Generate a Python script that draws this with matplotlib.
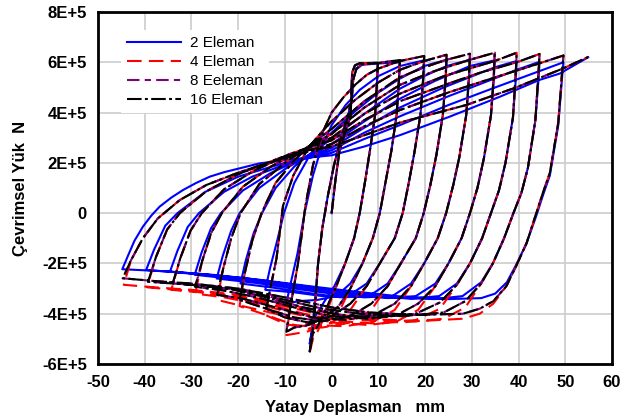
import itertools
import matplotlib
matplotlib.use("Agg")
import matplotlib.pyplot as plt
from matplotlib.ticker import FuncFormatter, MultipleLocator

plt.rcParams["font.family"] = ["Liberation Sans", "DejaVu Sans"]
plt.rcParams["axes.unicode_minus"] = False

# deplasman mm, kuvvet 1E+5 N cinsinden
ilk_yukleme = [(0, 0), (0.8, 1.3), (1.7, 2.5), (3.2, 3.4), (4.1, 3.9), (4.2, 4.8),
               (4.4, 5.6), (5.0, 5.88), (6.0, 5.96), (9.9, 5.98)]

# 16 eleman: tepe noktasindan negatif uca inen kollar
bosaltma_16 = [
    [(9.9, 5.98), (9.7, 5.2), (9.3, 3.9), (8.2, 2.5), (7.1, 1.2), (6.0, 0.0), (4.8, -1.0), (2.9, -2.0),
     (0.8, -3.0), (-1.2, -3.8), (-3.0, -4.5), (-4.0, -4.8), (-4.7, -5.5)],
    [(14.6, 6.09), (14.4, 5.3), (13.9, 3.9), (12.8, 2.5), (11.5, 1.2), (10.3, 0.0), (8.8, -1.0), (6.6, -2.0),
     (4.0, -3.0), (1.5, -3.7), (-2.0, -4.2), (-5.0, -4.45), (-8.0, -4.55), (-9.7, -4.72)],
    [(19.8, 6.25), (19.6, 5.4), (19.0, 3.9), (17.7, 2.4), (16.5, 1.2), (15.2, 0.0), (13.5, -1.0), (10.3, -2.0),
     (7.5, -2.9), (4.0, -3.6), (0, -4.1), (-5, -4.35), (-10, -4.15), (-14.0, -3.8)],
    [(24.6, 6.30), (24.4, 5.4), (23.8, 3.9), (22.4, 2.3), (21.1, 1.1), (19.7, 0.0), (18.0, -1.0), (14.8, -2.0),
     (12.0, -2.9), (8.5, -3.6), (4, -4.1), (-2, -4.3), (-8, -4.15), (-14, -3.8), (-19.7, -3.45)],
    [(29.6, 6.34), (29.4, 5.5), (28.8, 3.9), (27.3, 2.2), (26.0, 1.1), (24.5, 0.0), (22.7, -1.0), (19.8, -2.0),
     (17.0, -2.9), (13.5, -3.6), (9, -4.05), (3, -4.25), (-4, -4.15), (-12, -3.75), (-19, -3.4), (-24.5, -3.25)],
    [(34.9, 6.38), (34.7, 5.5), (34.1, 3.9), (32.6, 2.2), (31.2, 1.0), (29.6, 0.0), (27.8, -1.0), (25.0, -2.0),
     (22.2, -2.9), (18.5, -3.6), (14, -4.05), (8, -4.2), (0, -4.1), (-8, -3.75), (-16, -3.35), (-23, -3.08),
     (-29.2, -2.93)],
    [(39.6, 6.38), (39.4, 5.6), (38.8, 3.8), (37.2, 2.0), (35.8, 0.9), (34.1, 0.0), (32.2, -1.0), (29.6, -2.0),
     (26.8, -2.85), (23.2, -3.55), (18, -4.0), (10, -4.15), (2, -4.05), (-6, -3.75), (-14, -3.35), (-22, -3.0),
     (-28, -2.88), (-34.0, -2.79)],
    [(44.5, 6.33), (44.3, 5.7), (43.6, 3.7), (42.0, 1.8), (40.6, 0.8), (38.9, 0.0), (36.9, -1.0), (34.5, -2.0),
     (32.0, -2.8), (28.6, -3.5), (24, -3.95), (15, -4.1), (6, -4.0), (-2, -3.8), (-10, -3.45), (-20, -3.05),
     (-30, -2.85), (-39.3, -2.73)],
    [(49.6, 6.27), (49.4, 5.8), (48.5, 3.6), (46.7, 1.6), (45.2, 0.8), (43.8, 0.0), (41.7, -1.2), (39.5, -2.1),
     (37.4, -2.9), (34.6, -3.5), (31.7, -3.8), (28.1, -4.0), (18, -4.05), (8, -3.95), (0, -3.75), (-10, -3.35),
     (-20, -3.0), (-30, -2.8), (-38, -2.7), (-44.7, -2.59)],
]

# 16 eleman: negatif uctan bir sonraki tepeye cikan kollar
yukleme_16 = [
    [(-4.7, -5.5), (-4.2, -4.9), (-3.6, -3.8), (-2.9, -2.0), (-2.0, -0.6), (-0.8, 0.7), (0.5, 1.9), (2.0, 3.0),
     (3.4, 3.8), (4.3, 4.5), (4.6, 5.3), (5.3, 5.75), (6.5, 5.92), (9.9, 5.97), (14.6, 6.09)],
    [(-9.7, -4.72), (-8.9, -3.8), (-7.2, -2.0), (-5.6, 0.3), (-4.0, 1.9), (-2.2, 3.1), (0, 4.0), (2.5, 4.6),
     (5, 5.1), (7.5, 5.5), (10, 5.75), (14.6, 6.05), (19.8, 6.25)],
    [(-14.0, -3.8), (-13.0, -2.9), (-11.8, -1.8), (-10.4, 0.3), (-8.2, 1.5), (-5.0, 2.6), (-2, 3.25), (0, 3.65),
     (5, 4.5), (10, 5.2), (14.6, 5.7), (19.8, 6.05), (24.6, 6.30)],
    [(-19.7, -3.45), (-18.6, -2.4), (-17.0, -1.1), (-15.0, 0.0), (-12, 1.2), (-8, 2.1), (-4, 2.8), (0, 3.35),
     (7, 4.45), (14.6, 5.4), (19.8, 5.8), (24.6, 6.1), (29.6, 6.34)],
    [(-24.5, -3.25), (-23.2, -2.2), (-21.5, -1.0), (-19.5, 0.0), (-15.5, 1.15), (-10, 2.0), (-5, 2.65), (0, 3.15),
     (7, 4.2), (14.6, 5.1), (22, 5.65), (29.6, 6.1), (34.9, 6.38)],
    [(-29.2, -2.93), (-27.7, -1.9), (-25.8, -0.8), (-23.5, 0.0), (-19, 1.05), (-13, 1.85), (-6, 2.55), (0, 3.0),
     (7, 3.95), (14.6, 4.75), (24, 5.45), (34.9, 6.05), (39.6, 6.38)],
    [(-34.0, -2.79), (-32.4, -1.8), (-30.2, -0.7), (-27.8, 0.0), (-23, 0.95), (-17, 1.65), (-9, 2.35), (0, 2.9),
     (7, 3.7), (14.6, 4.45), (25, 5.15), (32, 5.6), (39.6, 6.0), (44.5, 6.33)],
    [(-39.3, -2.73), (-37.6, -1.75), (-35.2, -0.65), (-32.5, 0.0), (-27, 0.85), (-20, 1.55), (-11, 2.2),
     (0, 2.75), (7, 3.45), (14.6, 4.1), (25, 4.8), (35, 5.4), (44.5, 5.96), (49.6, 6.27)],
    [(-44.7, -2.59), (-42.9, -1.86), (-40.4, -1.0), (-37.2, -0.21), (-32.5, 0.52), (-26.8, 1.12), (-20.4, 1.58),
     (-16.1, 1.85), (-10, 2.2), (-5, 2.45), (0, 2.65), (7, 3.1), (14.6, 3.6), (28.8, 4.3), (39.5, 5.0),
     (49.6, 5.76), (54.9, 6.21)],
]

# 2 eleman
bosaltma_2 = [
    [(9.9, 5.98), (9.7, 5.2), (9.3, 3.9), (8.2, 2.5), (7.1, 1.2), (6.0, 0.0), (4.8, -1.0), (2.9, -2.0),
     (0.6, -2.9), (-1.5, -3.5), (-3.5, -4.1), (-4.7, -5.2)],
    [(14.6, 6.0), (14.4, 5.3), (13.9, 3.9), (12.8, 2.5), (11.5, 1.2), (10.3, 0.0), (8.8, -1.0), (6.6, -2.0),
     (4.0, -2.8), (1.0, -3.3), (-3, -3.45), (-7, -3.5), (-9.7, -3.6)],
    [(19.8, 6.08), (19.6, 5.3), (19.0, 3.9), (17.7, 2.4), (16.5, 1.2), (15.2, 0.0), (13.5, -1.0), (10.3, -2.0),
     (7.5, -2.8), (3.5, -3.3), (-2, -3.3), (-8, -3.15), (-14.2, -3.05)],
    [(24.6, 6.1), (24.4, 5.3), (23.8, 3.9), (22.4, 2.3), (21.1, 1.1), (19.7, 0.0), (18.0, -1.0), (14.8, -2.0),
     (12.0, -2.8), (8, -3.3), (2, -3.35), (-6, -3.15), (-13, -2.95), (-19.5, -2.8)],
    [(29.6, 6.1), (29.4, 5.3), (28.8, 3.9), (27.3, 2.2), (26.0, 1.1), (24.5, 0.0), (22.7, -1.0), (19.8, -2.0),
     (17.0, -2.8), (13, -3.3), (7, -3.35), (0, -3.2), (-8, -3.0), (-16, -2.78), (-24.6, -2.6)],
    [(34.9, 6.08), (34.7, 5.3), (34.1, 3.9), (32.6, 2.2), (31.2, 1.0), (29.6, 0.0), (27.8, -1.0), (25.0, -2.0),
     (22.2, -2.8), (18, -3.3), (12, -3.38), (4, -3.25), (-5, -3.0), (-14, -2.78), (-22, -2.6), (-29.3, -2.45)],
    [(39.6, 6.05), (39.4, 5.3), (38.8, 3.8), (37.2, 2.0), (35.8, 0.9), (34.1, 0.0), (32.2, -1.0), (29.6, -2.0),
     (26.8, -2.8), (23, -3.3), (17, -3.4), (8, -3.3), (-2, -3.05), (-12, -2.78), (-22, -2.55), (-34.6, -2.33)],
    [(44.5, 6.02), (44.3, 5.4), (43.6, 3.7), (42.0, 1.8), (40.6, 0.8), (38.9, 0.0), (36.9, -1.0), (34.5, -2.0),
     (32.0, -2.75), (28, -3.3), (22, -3.42), (12, -3.35), (2, -3.1), (-8, -2.85), (-18, -2.6), (-28, -2.42),
     (-39.7, -2.26)],
    [(49.6, 6.0), (49.4, 5.6), (48.5, 3.5), (46.7, 1.5), (45.2, 0.7), (43.8, -0.1), (41.7, -1.2), (39.5, -2.05),
     (37.5, -2.75), (35, -3.2), (32, -3.38), (25, -3.42), (15, -3.32), (5, -3.12), (-5, -2.9), (-15, -2.66),
     (-25, -2.46), (-35, -2.32), (-44.8, -2.23)],
]

yukleme_2 = [
    [(-4.7, -5.2), (-4.2, -4.6), (-3.6, -3.6), (-2.9, -2.0), (-2.0, -0.6), (-0.8, 0.7), (0.5, 1.9), (2.0, 3.0),
     (3.4, 3.8), (4.3, 4.5), (4.6, 5.3), (5.3, 5.72), (6.5, 5.9), (9.9, 5.95), (14.6, 6.0)],
    [(-9.7, -3.6), (-8.9, -2.9), (-7.3, -1.6), (-5.8, 0.0), (-4.0, 1.5), (-2.2, 2.6), (0, 3.5), (3, 4.3),
     (6, 4.9), (10, 5.45), (14.6, 5.85), (19.8, 6.08)],
    [(-14.2, -3.05), (-13.2, -2.2), (-11.8, -1.2), (-10.2, 0.0), (-8, 1.2), (-5, 2.2), (-2, 2.85), (0, 3.2),
     (5, 4.05), (10, 4.8), (14.6, 5.35), (19.8, 5.85), (24.6, 6.1)],
    [(-19.5, -2.8), (-18.4, -1.9), (-16.7, -0.8), (-14.9, 0.0), (-12, 1.0), (-8, 1.85), (-4, 2.45), (0, 2.95),
     (7, 3.95), (14.6, 4.95), (19.8, 5.45), (24.6, 5.85), (29.6, 6.1)],
    [(-24.6, -2.6), (-23.3, -1.7), (-21.5, -0.7), (-19.7, 0.0), (-15.5, 1.0), (-10, 1.75), (-5, 2.3), (0, 2.75),
     (7, 3.65), (14.6, 4.55), (22, 5.25), (29.6, 5.85), (34.9, 6.08)],
    [(-29.3, -2.45), (-27.8, -1.55), (-25.8, -0.6), (-23.7, 0.0), (-19, 0.9), (-13, 1.6), (-6, 2.2), (0, 2.6),
     (7, 3.4), (14.6, 4.2), (24, 5.0), (34.9, 5.8), (39.6, 6.05)],
    [(-34.6, -2.33), (-33, -1.5), (-30.8, -0.55), (-28.4, 0.0), (-23, 0.85), (-17, 1.45), (-9, 2.0), (0, 2.5),
     (7, 3.2), (14.6, 3.85), (25, 4.65), (32, 5.15), (39.6, 5.7), (44.5, 6.02)],
    [(-39.7, -2.26), (-38, -1.45), (-35.6, -0.5), (-33, 0.0), (-27, 0.85), (-20, 1.45), (-11, 1.95), (0, 2.4),
     (7, 2.95), (14.6, 3.5), (25, 4.3), (35, 5.0), (44.5, 5.65), (49.6, 6.0)],
    [(-44.8, -2.23), (-43.6, -1.7), (-42.2, -1.1), (-40.4, -0.54), (-38.6, -0.1), (-36.8, 0.26), (-34.3, 0.62),
     (-31.8, 0.92), (-29, 1.2), (-26.1, 1.45), (-23, 1.63), (-19.7, 1.78), (-15.4, 1.98), (-8, 2.15), (0, 2.3),
     (7, 2.65), (14.6, 3.1), (25.3, 3.84), (36, 4.63), (44.5, 5.3), (48.8, 5.55), (54.9, 6.2)],
]

# 4 eleman: alt kollar 16 elemanlidan biraz asagida
taban_4 = [
    [(-1.2, -4.0), (-3.0, -4.7), (-4.0, -5.0), (-4.7, -5.55)],
    [(1.5, -3.95), (-2.0, -4.45), (-5.0, -4.7), (-8.0, -4.8), (-9.7, -4.85)],
    [(4.0, -3.85), (0, -4.35), (-5, -4.6), (-10, -4.4), (-14.2, -4.05)],
    [(8.5, -3.85), (4, -4.35), (-2, -4.55), (-8, -4.45), (-14, -4.05), (-19.7, -3.7)],
    [(13.5, -3.85), (9, -4.3), (3, -4.5), (-4, -4.45), (-12, -4.0), (-19, -3.7), (-24.5, -3.45)],
    [(18.5, -3.85), (14, -4.3), (8, -4.45), (0, -4.35), (-8, -4.0), (-16, -3.6), (-23, -3.35), (-29.2, -3.2)],
    [(23.2, -3.8), (18, -4.25), (10, -4.4), (2, -4.3), (-6, -4.0), (-14, -3.6), (-22, -3.3), (-28, -3.15),
     (-34.3, -3.05)],
    [(28.6, -3.75), (24, -4.2), (15, -4.35), (6, -4.25), (-2, -4.05), (-10, -3.7), (-20, -3.3), (-30, -3.1),
     (-39.5, -2.95)],
    [(34.6, -3.6), (31.7, -4.0), (28.1, -4.2), (18, -4.3), (8, -4.2), (0, -4.0), (-10, -3.6), (-20, -3.25),
     (-30, -3.05), (-38, -2.95), (-44.5, -2.85)],
]


def yol(inis, cikis):
    # tum kollari tek bir cizgi olarak birlestir
    noktalar = list(ilk_yukleme)
    for a, b in zip(inis, cikis):
        noktalar += a[1:] + b[1:]
    x, y = zip(*noktalar)
    return x, y


bosaltma_4 = [list(itertools.takewhile(lambda p: p[1] >= -3.0, d)) + t
              for d, t in zip(bosaltma_16, taban_4)]
yukleme_4 = [[t[-1]] + c[1:] for t, c in zip(taban_4, yukleme_16)]

fig = plt.figure(figsize=(6.29, 4.18), dpi=100)
ax = fig.add_axes([0.1558, 0.1292, 0.8172, 0.8421])

ax.plot(*yol(bosaltma_2, yukleme_2), color="#0000ff", lw=1.5, label="2 Eleman")
ax.plot(*yol(bosaltma_4, yukleme_4), color="#ff0000", lw=1.5, ls=(0, (7, 3.5)), label="4 Eleman")
ax.plot(*yol(bosaltma_16, yukleme_16), color="#800080", lw=1.5, ls=(0, (6, 2.5, 3, 2.5)), label="8 Eeleman")
ax.plot(*yol(bosaltma_16, yukleme_16), color="black", lw=1.5, ls=(0, (7, 1.6, 1.4, 1.6)), label="16 Eleman")

ax.set_xlim(-50, 60)
ax.set_ylim(-6, 8)
ax.xaxis.set_major_locator(MultipleLocator(10))
ax.yaxis.set_major_locator(MultipleLocator(2))
ax.yaxis.set_major_formatter(FuncFormatter(lambda v, p: "0" if v == 0 else f"{v:.0f}E+5"))
ax.grid(True, color="#cccccc", lw=1.2)
ax.set_axisbelow(True)
ax.tick_params(length=0, pad=8, labelsize=12)
for lab in ax.get_xticklabels() + ax.get_yticklabels():
    lab.set_fontweight("bold")
for s in ax.spines.values():
    s.set_linewidth(2)

ax.set_xlabel("Yatay Deplasman   mm", fontsize=12, fontweight="bold", labelpad=7)
ax.set_ylabel("Çevrimsel Yük  N", fontsize=12, fontweight="bold", labelpad=10)

leg = ax.legend(loc="upper left", bbox_to_anchor=(0.045, 0.948), borderaxespad=0, fontsize=11,
                handlelength=3.5, handletextpad=0.6, labelspacing=0.32, borderpad=0.4,
                frameon=True, fancybox=False, framealpha=1, edgecolor="none", facecolor="white")

fig.savefig("out.png", dpi=100)
